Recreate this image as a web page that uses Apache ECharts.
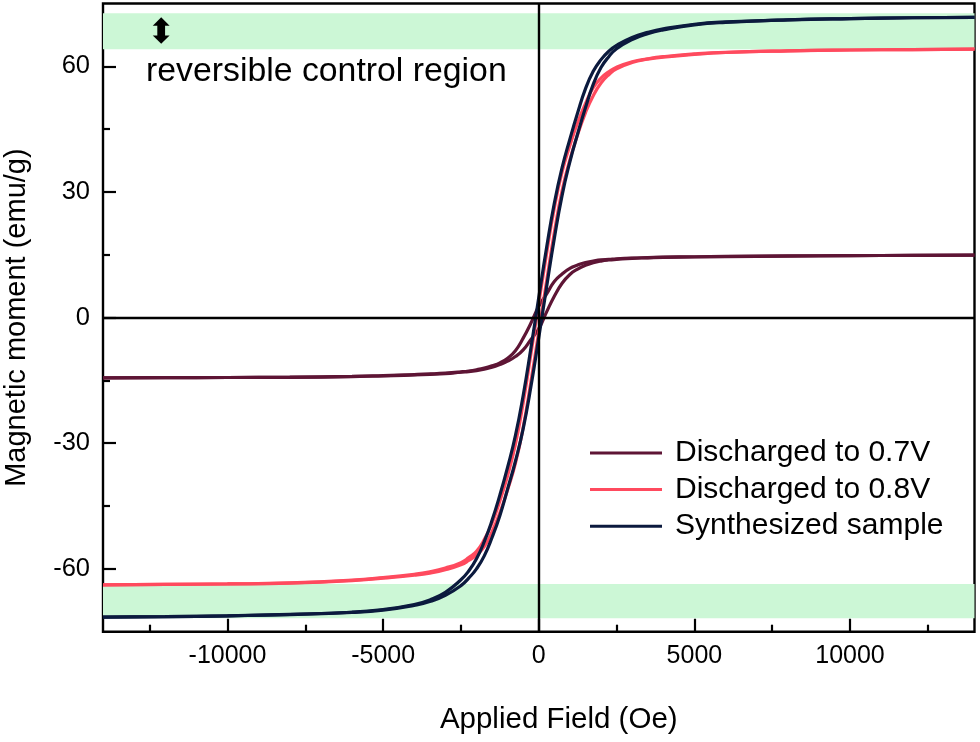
<!DOCTYPE html>
<html>
<head>
<meta charset="utf-8">
<script src="https://cdn.jsdelivr.net/npm/echarts@6/dist/echarts.min.js"></script>
<style>
html,body{margin:0;padding:0;background:#fff;}
#c{width:980px;height:742px;}
</style>
</head>
<body>
<div id="c"></div>
<script>
// Applied field grid (Oe)
const fieldOe = [-14000,-12000,-10000,-8000,-6000,-5000,-4000,-3500,-3000,-2500,-2250,-2000,-1750,-1500,-1250,-1000,-750,-500,-250,0,250,500,750,1000,1250,1500,1750,2000,2250,2500,3000,3500,4000,5000,6000,8000,10000,12000,14000];

// Discharged to 0.7V (emu/g)
const m07Ascending = [-14.4,-14.35,-14.3,-14.25,-14.1,-13.95,-13.7,-13.55,-13.37,-13.05,-12.9,-12.65,-12.3,-11.85,-11.2,-10.4,-9.3,-7.7,-5.2,-2.7,1.3,5.1,8.2,10.3,11.6,12.5,13.1,13.5,13.75,13.9,14.15,14.27,14.37,14.47,14.57,14.7,14.8,14.85,14.9];
const m07Descending = [-14.4,-14.35,-14.3,-14.22,-14.05,-13.85,-13.6,-13.45,-13.25,-12.95,-12.75,-12.45,-12.05,-11.5,-10.8,-9.7,-7.9,-4.9,-1.3,2.7,5.6,8.6,10.4,11.75,12.55,13.15,13.5,13.78,13.9,14.05,14.23,14.33,14.43,14.53,14.62,14.72,14.8,14.85,14.9];

// Discharged to 0.8V (emu/g)
const m08Ascending = [-63.8,-63.7,-63.6,-63.4,-62.8,-62.2,-61.5,-61.0,-60.2,-59.0,-58.0,-56.7,-54.7,-51.1,-46.6,-41.1,-34.8,-26.2,-15.2,-3.4,8.6,20.3,30.3,37.7,43.7,48.9,53.0,56.0,58.0,59.4,60.9,61.7,62.2,62.85,63.3,63.7,63.9,64.0,64.1];
const m08Descending = [-63.8,-63.7,-63.6,-63.35,-62.7,-62.1,-61.3,-60.7,-59.8,-58.5,-57.3,-55.8,-53.0,-49.0,-43.8,-37.7,-30.3,-20.3,-8.6,3.4,15.2,26.2,34.8,41.1,46.6,51.1,54.9,57.2,58.7,59.8,61.1,61.8,62.3,62.95,63.35,63.7,63.9,64.0,64.1];

// Synthesized sample (emu/g)
const mSynAscending = [-71.5,-71.4,-71.2,-70.9,-70.4,-69.85,-68.7,-67.8,-66.3,-64.0,-62.2,-60.0,-56.9,-52.5,-47.3,-40.9,-34.3,-26.5,-16.4,-4.8,7.2,18.9,29.2,37.2,43.9,50.1,55.7,59.7,62.3,64.2,66.4,67.8,68.7,69.9,70.5,71.1,71.4,71.6,71.7];
const mSynDescending = [-71.5,-71.4,-71.2,-70.85,-70.35,-69.7,-68.5,-67.4,-65.6,-62.6,-60.5,-57.6,-53.5,-48.4,-42.4,-35.7,-28.2,-18.6,-7.2,4.8,16.6,27.3,35.8,42.6,48.9,54.6,58.8,61.6,63.6,65.0,66.9,68.1,68.95,70.05,70.6,71.1,71.4,71.6,71.7];

// Series names
const seriesNames = ['Discharged to 0.7V','Discharged to 0.8V','Synthesized sample'];

// Axis ticks / labels
const xMajorTicks = [-10000,-5000,0,5000,10000];
const xMinorTicks = [-12500,-7500,-2500,2500,7500,12500];
const yMajorTicks = [-60,-30,0,30,60];
const yMinorTicks = [-45,-15,15,45];

// Reversible control region bands (emu/g)
const bandUpper = [64.1, 72.7];
const bandLower = [-63.6, -71.8];

const FONT = 'Liberation Sans, Arial, Helvetica, sans-serif';
const colors = ['#5e1535', '#ff4a5e', '#0b1a3e'];

function pairs(ys){ return fieldOe.map((h,i)=>[h, ys[i]]); }

function branch(name, ys, color){
  return {
    type:'line', name:name, data:pairs(ys), xAxisIndex:0, yAxisIndex:0,
    showSymbol:false, symbol:'none', smooth:0.5,
    lineStyle:{color:color, width:3.2}, itemStyle:{color:color}, z:3, silent:true
  };
}

const chart = echarts.init(document.getElementById('c'), null, {renderer:'canvas'});

const option = {
  animation:false,
  backgroundColor:'#ffffff',
  textStyle:{fontFamily:FONT},
  grid:{left:103, right:5.5, top:3.5, bottom:110.3, show:true, borderColor:'#000', borderWidth:2.4, backgroundColor:'#fff', containLabel:false, outerBoundsMode:'none'},
  legend:{
    data:seriesNames, orient:'vertical', left:585, top:433, icon:'rect',
    itemWidth:72, itemHeight:3, itemGap:6.6,
    textStyle:{fontFamily:FONT, fontSize:30, color:'#000', lineHeight:30, padding:[0,0,0,8]}
  },
  xAxis:[
    {type:'value', min:-14000, max:14000, position:'bottom',
     axisLine:{show:false, onZero:false}, splitLine:{show:false},
     axisTick:{show:true, inside:true, length:13, lineStyle:{color:'#000', width:2.2}, customValues:xMajorTicks},
     axisLabel:{show:true, customValues:xMajorTicks, formatter:(v)=>String(v), fontFamily:FONT, fontSize:25, color:'#000', margin:12},
     name:'Applied Field (Oe)', nameLocation:'middle', nameGap:73,
     nameTextStyle:{fontFamily:FONT, fontSize:29.5, color:'#000', padding:[0,0,0,40]}},
    {type:'value', min:-14000, max:14000, position:'bottom',
     axisLine:{show:false, onZero:false}, splitLine:{show:false},
     axisTick:{show:true, inside:true, length:7, lineStyle:{color:'#000', width:2.2}, customValues:xMinorTicks},
     axisLabel:{show:false}}
  ],
  yAxis:[
    {type:'value', min:-75, max:75, position:'left',
     axisLine:{show:false, onZero:false}, splitLine:{show:false},
     axisTick:{show:true, inside:true, length:13, lineStyle:{color:'#000', width:2.2}, customValues:yMajorTicks},
     axisLabel:{show:true, customValues:yMajorTicks, formatter:(v)=>String(v), fontFamily:FONT, fontSize:25.5, color:'#000', margin:13},
     name:'Magnetic moment (emu/g)', nameLocation:'middle', nameGap:72,
     nameTextStyle:{fontFamily:FONT, fontSize:29, color:'#000'}},
    {type:'value', min:-75, max:75, position:'left',
     axisLine:{show:false, onZero:false}, splitLine:{show:false},
     axisTick:{show:true, inside:true, length:7, lineStyle:{color:'#000', width:2.2}, customValues:yMinorTicks},
     axisLabel:{show:false}}
  ],
  graphic:[
    {type:'text', left:146, top:55, z:10, silent:true,
     style:{text:'reversible control region', fontFamily:FONT, fontSize:33.8, fill:'#000'}},
    {type:'text', left:147, top:17, z:10, silent:true,
     style:{text:'\u2B0D', fontFamily:'DejaVu Sans', fontSize:34, fill:'#000'}}
  ],
  series:[
    {type:'line', name:'bands', data:[], xAxisIndex:0, yAxisIndex:0, z:1, silent:true,
     markArea:{silent:true, itemStyle:{color:'#ccf7d6', borderWidth:0},
       data:[[{yAxis:bandUpper[0]},{yAxis:bandUpper[1]}],[{yAxis:bandLower[0]},{yAxis:bandLower[1]}]]}},
    {type:'line', name:'zero', data:[], xAxisIndex:0, yAxisIndex:0, z:2, silent:true,
     markLine:{silent:true, symbol:'none', label:{show:false}, animation:false,
       lineStyle:{color:'#000', width:2.4, type:'solid'},
       data:[{xAxis:0},{yAxis:0}]}},
    branch(seriesNames[0], m07Ascending, colors[0]),
    branch(seriesNames[0], m07Descending, colors[0]),
    branch(seriesNames[1], m08Ascending, colors[1]),
    branch(seriesNames[1], m08Descending, colors[1]),
    branch(seriesNames[2], mSynAscending, colors[2]),
    branch(seriesNames[2], mSynDescending, colors[2])
  ]
};
chart.setOption(option);
</script>
</body>
</html>
